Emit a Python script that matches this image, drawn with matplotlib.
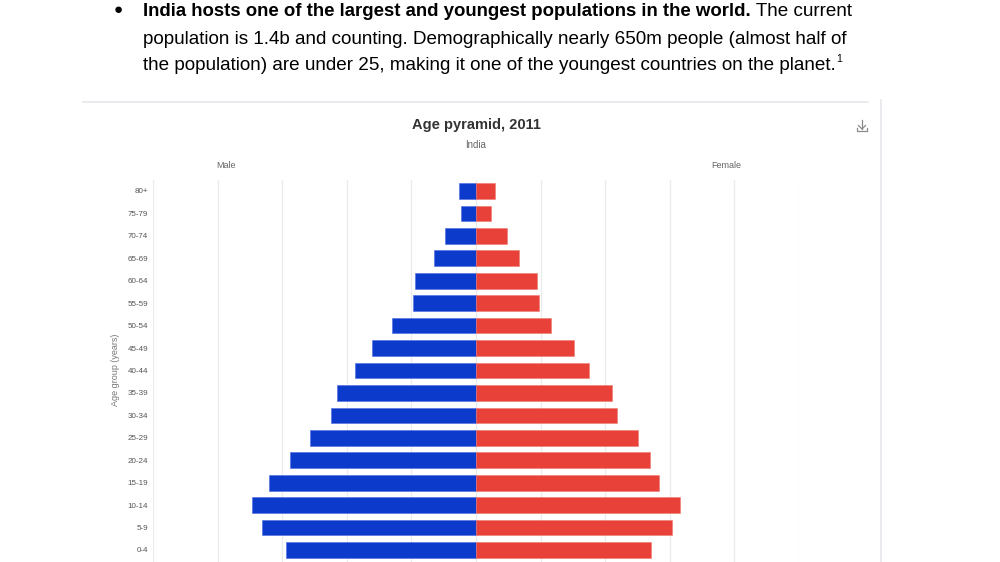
import numpy as np
import matplotlib
matplotlib.use("Agg")
from matplotlib import pyplot as plt
from matplotlib.lines import Line2D

# ---------------------------Data---------------------------#
age_groups = ["0-4", "5-9", "10-14", "15-19", "20-24", "25-29", "30-34", "35-39",
              "40-44", "45-49", "50-54", "55-59", "60-64", "65-69", "70-74", "75-79", "80+"]
# millions of people
male = [58.7, 66.4, 69.5, 64.1, 57.7, 51.4, 44.8, 43.0,
        37.6, 32.2, 25.9, 19.5, 18.8, 13.0, 9.7, 4.5, 5.4]
female = [54.1, 60.7, 63.3, 56.6, 53.8, 50.1, 43.8, 42.1,
          34.9, 30.2, 23.2, 19.6, 18.9, 13.4, 9.5, 4.6, 5.8]

title = "Age pyramid, 2011"
subtitle = "India"
bold_line = "India hosts one of the largest and youngest populations in the world."
rest_line1 = " The current"
line2 = "population is 1.4b and counting. Demographically nearly 650m people (almost half of"
line3 = "the population) are under 25, making it one of the youngest countries on the planet."

plt.rcParams['font.family'] = ['Liberation Sans', 'DejaVu Sans']

W, H = 1000, 562
fig = plt.figure(figsize=(W / 100, H / 100), dpi=100)


def fx(px):
    return px / W


def fy(py):
    return 1 - py / H


# ---------------------------Intro text---------------------------#
fig.text(fx(118), fy(10), "\u25cf", fontsize=11, ha='center', va='center', color='black')
t1 = fig.text(fx(143), fy(16.5), bold_line, fontsize=13.4, fontweight='bold', va='baseline')
fig.canvas.draw()
r = fig.canvas.get_renderer()
bb = t1.get_window_extent(r)
fig.text(bb.x1 / W, fy(16.5), rest_line1, fontsize=13.6, va='baseline')
fig.text(fx(143), fy(43.5), line2, fontsize=13.6, va='baseline')
t3 = fig.text(fx(143), fy(70), line3, fontsize=13.6, va='baseline')
bb3 = t3.get_window_extent(r)
fig.text(bb3.x1 / W + 0.0005, fy(62), "1", fontsize=7.5, va='baseline')

# ---------------------------Card frame---------------------------#
frame_col = '#e6e8eb'
fig.add_artist(Line2D([fx(83), fx(868)], [fy(102), fy(102)], color=frame_col, lw=1.2))
fig.add_artist(Line2D([fx(881), fx(881)], [fy(100), fy(562)], color=frame_col, lw=1.2))

# download icon
icon_col = '#8a8a8a'
fig.add_artist(Line2D([fx(862), fx(862)], [fy(120), fy(129)], color=icon_col, lw=0.9))
fig.add_artist(Line2D([fx(858.5), fx(862), fx(865.5)], [fy(125.5), fy(129), fy(125.5)], color=icon_col, lw=0.9))
fig.add_artist(Line2D([fx(857), fx(857), fx(867), fx(867)], [fy(128), fy(131), fy(131), fy(128)], color=icon_col, lw=0.9))

# ---------------------------Chart---------------------------#
fig.text(fx(476), fy(125), title, fontsize=10.5, fontweight='bold', color='#333333', ha='center', va='center')
fig.text(fx(476), fy(145), subtitle, fontsize=7, color='#666666', ha='center', va='center')
fig.text(fx(226), fy(165), "Male", fontsize=6.5, color='#666666', ha='center', va='center')
fig.text(fx(726), fy(165), "Female", fontsize=6.5, color='#666666', ha='center', va='center')
fig.text(fx(116), fy(370), "Age group (years)", fontsize=6.5, color='#777777', rotation=90,
         ha='center', va='center')

ax = fig.add_axes([fx(153), 0, fx(799) - fx(153), fy(180)])
y = np.arange(len(age_groups))
ax.barh(y, -np.array(male), height=0.7, color='#0c3bcc', edgecolor='#4a6be0', linewidth=0.4, zorder=3)
ax.barh(y, female, height=0.7, color='#e8413a', edgecolor='#f07a70', linewidth=0.4, zorder=3)

ax.set_xlim(-100, 100)
ax.set_ylim(-0.535, 16.49)
ax.set_xticks(np.arange(-100, 101, 20))
ax.set_xticklabels([])
ax.set_yticks(y)
ax.set_yticklabels(age_groups, fontsize=5.8, color='#555555')
ax.tick_params(axis='both', length=0)
ax.tick_params(axis='y', pad=3.5)
ax.grid(axis='x', color='#ebebeb', lw=0.9, zorder=0)
for s in ax.spines.values():
    s.set_visible(False)

fig.savefig("out.png", dpi=100)
